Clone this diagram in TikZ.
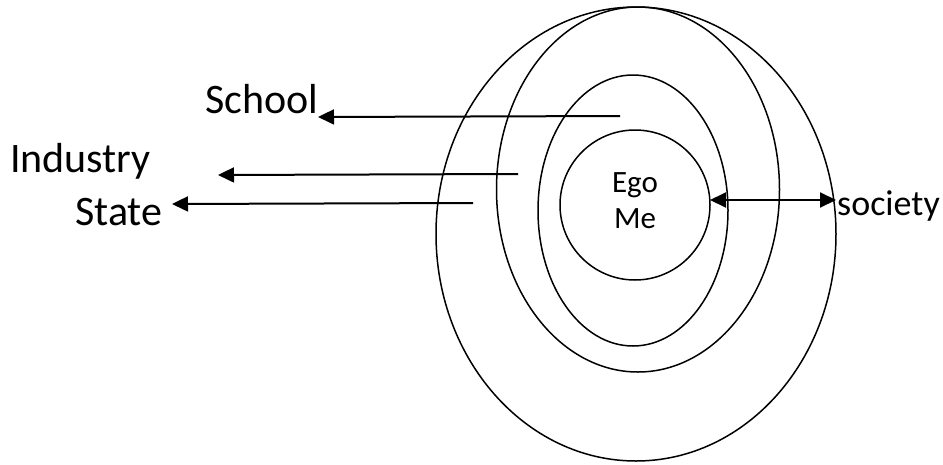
\documentclass[tikz,border=0pt]{standalone}
\usepackage{fontspec}
\setmainfont{Carlito}
\usetikzlibrary{arrows.meta}
\begin{document}
\begin{tikzpicture}[x=1pt,y=-1pt,
  ring/.style={line width=1.5pt},
  pointer/.style={line width=2pt,-{Triangle[length=16pt,width=15pt]}},
  both/.style={line width=2pt,{Triangle[length=16pt,width=15pt]}-{Triangle[length=16pt,width=15pt]}},
  label/.style={anchor=base west,inner sep=0pt,font=\fontsize{42}{46}\selectfont},
  egotext/.style={anchor=base,align=center,inner sep=0pt,font=\fontsize{31}{36}\selectfont}]
\useasboundingbox (0,0) rectangle (943,464);

% nested spheres
\draw[ring] (636,234) ellipse [x radius=200pt, y radius=227pt];
\draw[ring] (638,189.5) ellipse [x radius=141.5pt, y radius=182.5pt];
\draw[ring] (633,210.5) ellipse [x radius=95pt, y radius=135.5pt];
\draw[ring] (635,205) circle [radius=75pt];

% labels (the base of a two-line node is its last line)
\node[egotext] (ego) at (635,228) {Ego\\Me};
\node[label] (school) at (205,113) {School};
\node[label] (industry) at (10,172) {Industry};
\node[label] (state) at (75,225) {State};
\node[label,font=\fontsize{36}{40}\selectfont] (society) at (837,215) {society};

% arrow anchors
\coordinate (schoolFrom) at (620,116);
\coordinate (schoolTo) at (318,117);
\coordinate (industryFrom) at (518,174);
\coordinate (industryTo) at (218,175);
\coordinate (stateFrom) at (473,203);
\coordinate (stateTo) at (172,204);
\coordinate (egoEdge) at (710,200);
\coordinate (outerEdge) at (836,200);

\draw[pointer] (schoolFrom) -- (schoolTo);
\draw[pointer] (industryFrom) -- (industryTo);
\draw[pointer] (stateFrom) -- (stateTo);
\draw[both] (egoEdge) -- (outerEdge);
\end{tikzpicture}
\end{document}
